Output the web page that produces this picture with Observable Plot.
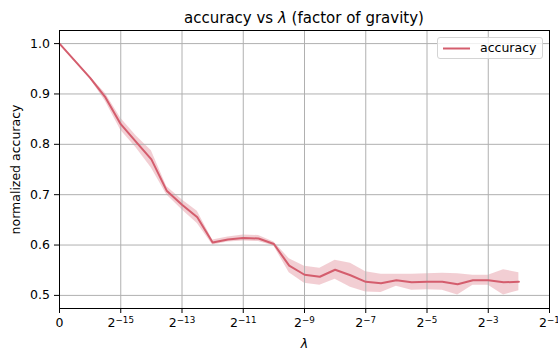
<!DOCTYPE html>
<html>
<head>
<meta charset="utf-8">
<script src="https://cdn.jsdelivr.net/npm/d3@7"></script>
<script src="https://cdn.jsdelivr.net/npm/@observablehq/plot@0.6"></script>
<style>
  body { margin: 0; background: #fff; font-family: "DejaVu Sans", sans-serif; }
  #chart { position: relative; width: 558px; height: 350px; }
  #title { position: absolute; left: 59px; width: 490px; top: 9px; text-align: center;
           font-size: 15px; line-height: 18px; color: #000; }
  #title .sym { font-style: italic; }
  #legend { position: absolute; left: 437px; top: 37px; width: 104px; height: 20px;
            border: 1px solid #d4d4d4; border-radius: 3px; background: rgba(255,255,255,0.8);
            font-size: 12.5px; color: #000; }
  #legend svg { position: absolute; left: 4px; top: 0; }
  #legend span { position: absolute; left: 42px; top: 0; line-height: 20px; }
</style>
</head>
<body>
<div id="chart">
  <div id="title">accuracy vs <span class="sym">λ</span> (factor of gravity)</div>
</div>
<script>
// λ values tested (first run is λ = 0, then half-powers of two)
const lambdas = [0,
  2 ** -16, 2 ** -15.5, 2 ** -15, 2 ** -14.5, 2 ** -14, 2 ** -13.5, 2 ** -13, 2 ** -12.5,
  2 ** -12, 2 ** -11.5, 2 ** -11, 2 ** -10.5, 2 ** -10, 2 ** -9.5, 2 ** -9, 2 ** -8.5,
  2 ** -8, 2 ** -7.5, 2 ** -7, 2 ** -6.5, 2 ** -6, 2 ** -5.5, 2 ** -5, 2 ** -4.5,
  2 ** -4, 2 ** -3.5, 2 ** -3, 2 ** -2.5, 2 ** -2];

// mean normalized accuracy for each λ
const accuracyMean = [1.000,
  0.932, 0.893, 0.840, 0.805, 0.770, 0.708, 0.680, 0.655,
  0.605, 0.611, 0.614, 0.613, 0.602, 0.559, 0.541, 0.537,
  0.551, 0.540, 0.527, 0.524, 0.530, 0.526, 0.527, 0.527,
  0.522, 0.530, 0.530, 0.526, 0.527];

// standard deviation across runs
const accuracyStd = [0.000,
  0.002, 0.008, 0.012, 0.012, 0.017, 0.008, 0.010, 0.012,
  0.005, 0.005, 0.006, 0.006, 0.004, 0.014, 0.017, 0.017,
  0.019, 0.024, 0.020, 0.018, 0.012, 0.016, 0.016, 0.017,
  0.021, 0.010, 0.010, 0.025, 0.018];

// x axis: log2(λ) positions, with λ = 0 placed at the left end
const xTickPositions = [-17, -15, -13, -11, -9, -7, -5, -3, -1];
// tick labels as [base, exponent]; an empty exponent means a plain label
const xTickLabels = [["0", ""], ["2", "−15"], ["2", "−13"], ["2", "−11"], ["2", "−9"],
                     ["2", "−7"], ["2", "−5"], ["2", "−3"], ["2", "−1"]];
const yTicks = [0.5, 0.6, 0.7, 0.8, 0.9, 1.0];

const lineColor = "#d45d6d";
const gridColor = "#b0b0b0";
const zeroPos = xTickPositions[0];

const rows = lambdas.map((lam, i) => ({
  pos: lam === 0 ? zeroPos : Math.log2(lam),
  mean: accuracyMean[i],
  std: accuracyStd[i]
}));

const svg = Plot.plot({
  width: 558,
  height: 350,
  marginTop: 30,
  marginBottom: 42,
  marginLeft: 59,
  marginRight: 9,
  style: { fontFamily: "DejaVu Sans, sans-serif", fontSize: "12.5px", color: "#000", background: "transparent", overflow: "visible" },
  x: { domain: [-17, -1] },
  y: { domain: [0.474, 1.026] },
  marks: [
    Plot.areaY(rows, { x: "pos", y1: d => d.mean - d.std, y2: d => d.mean + d.std, fill: lineColor, fillOpacity: 0.3 }),
    Plot.gridX(xTickPositions, { stroke: gridColor, strokeOpacity: 1, strokeWidth: 1 }),
    Plot.gridY(yTicks, { stroke: gridColor, strokeOpacity: 1, strokeWidth: 1 }),
    Plot.line(rows, { x: "pos", y: "mean", stroke: lineColor, strokeWidth: 2 }),
    Plot.frame({ stroke: "#000", strokeWidth: 1 }),
    Plot.axisX(xTickPositions, {
      tickFormat: e => xTickLabels[xTickPositions.indexOf(e)].join("|"),
      tickSize: 5, tickPadding: 4.5,
      label: "λ", labelAnchor: "center", labelOffset: 39, labelArrow: false
    }),
    Plot.axisY(yTicks, {
      tickFormat: d3.format(".1f"),
      tickSize: 5, tickPadding: 4.5,
      label: "normalized accuracy", labelAnchor: "center", labelOffset: 48, labelArrow: false
    })
  ]
});

// powers of two: base plus a raised, smaller exponent
svg.querySelectorAll('[aria-label="x-axis tick label"] text').forEach(t => {
  const [base, exp] = t.textContent.split("|");
  t.textContent = base;
  if (exp) {
    const sup = document.createElementNS("http://www.w3.org/2000/svg", "tspan");
    sup.setAttribute("dy", "-0.42em");
    sup.setAttribute("font-size", "0.7em");
    sup.textContent = exp;
    t.appendChild(sup);
  }
});

// λ is a math symbol: draw it in italics
const xLabel = svg.querySelector('[aria-label="x-axis label"] text');
if (xLabel) xLabel.style.fontStyle = "italic";

const chart = document.getElementById("chart");
chart.insertBefore(svg, chart.firstChild);

// legend box in the upper right corner
const legend = document.createElement("div");
legend.id = "legend";
legend.innerHTML = `<svg width="30" height="20"><line x1="1" x2="28" y1="10.5" y2="10.5" stroke="${lineColor}" stroke-width="2"/></svg><span>accuracy</span>`;
chart.appendChild(legend);
</script>
</body>
</html>
